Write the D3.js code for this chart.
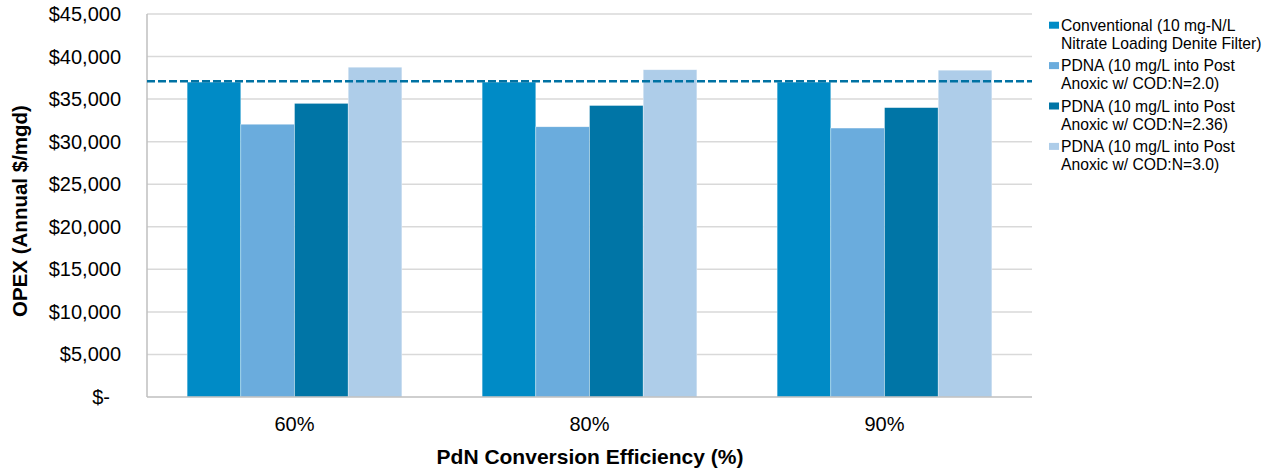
<!DOCTYPE html>
<html>
<head>
<meta charset="utf-8">
<script src="https://cdn.jsdelivr.net/npm/d3@7"></script>
<style>
  html, body { margin: 0; padding: 0; background: #ffffff; }
  svg { display: block; font-family: "Liberation Sans", Arial, sans-serif; }
</style>
</head>
<body>
<svg id="chart" width="1268" height="470"></svg>
<script>
// PdN conversion efficiency categories
const categories = ["60%", "80%", "90%"];

// Legend labels, split over two lines each
const seriesLabels = [
  ["Conventional (10 mg-N/L", "Nitrate Loading Denite Filter)"],
  ["PDNA (10 mg/L into Post", "Anoxic w/ COD:N=2.0)"],
  ["PDNA (10 mg/L into Post", "Anoxic w/ COD:N=2.36)"],
  ["PDNA (10 mg/L into Post", "Anoxic w/ COD:N=3.0)"]
];

// Annual OPEX ($/mgd) for each series across the categories
const conventional = [37000, 37000, 37000];
const pdnaCod20 = [32050, 31750, 31600];
const pdnaCod236 = [34500, 34250, 34000];
const pdnaCod30 = [38750, 38450, 38400];
const seriesValues = [conventional, pdnaCod20, pdnaCod236, pdnaCod30];

// Reference level of the conventional process (dashed line)
const conventionalReference = 37100;

// Y axis ticks
const yTicks = [0, 5000, 10000, 15000, 20000, 25000, 30000, 35000, 40000, 45000];

const colors = ["#008bc6", "#6aacdd", "#0075a6", "#aecde9"];

const svg = d3.select("#chart");
const margin = { left: 147, right: 1032, top: 14, bottom: 397 };

const x0 = d3.scaleBand()
  .domain(categories)
  .range([margin.left, margin.right])
  .paddingInner(0.272)
  .paddingOuter(0.136);

const x1 = d3.scaleBand()
  .domain(d3.range(seriesValues.length))
  .range([0, x0.bandwidth()]);

const y = d3.scaleLinear()
  .domain([0, 45000])
  .range([margin.bottom, margin.top]);

// Horizontal gridlines
svg.append("g")
  .selectAll("line")
  .data(yTicks.filter(d => d > 0))
  .join("line")
  .attr("x1", margin.left)
  .attr("x2", margin.right)
  .attr("y1", d => y(d))
  .attr("y2", d => y(d))
  .attr("stroke", "#d9d9d9")
  .attr("stroke-width", 1.5);

// Bars
const groups = svg.append("g")
  .selectAll("g")
  .data(categories)
  .join("g")
  .attr("transform", d => `translate(${x0(d)},0)`);

groups.selectAll("rect")
  .data((d, i) => seriesValues.map((s, k) => ({ k, v: s[i] })))
  .join("rect")
  .attr("x", d => x1(d.k))
  .attr("width", x1.bandwidth())
  .attr("y", d => y(d.v))
  .attr("height", d => y(0) - y(d.v))
  .attr("fill", d => colors[d.k])
  .attr("stroke", "#ffffff")
  .attr("stroke-width", 0.6)
  .attr("stroke-opacity", 0.6);

// Axis lines
svg.append("line")
  .attr("x1", margin.left).attr("x2", margin.left)
  .attr("y1", margin.top).attr("y2", margin.bottom)
  .attr("stroke", "#bfbfbf").attr("stroke-width", 1.5);
svg.append("line")
  .attr("x1", margin.left).attr("x2", margin.right)
  .attr("y1", margin.bottom).attr("y2", margin.bottom)
  .attr("stroke", "#bfbfbf").attr("stroke-width", 1.5);

// Conventional reference dashed line
svg.append("line")
  .attr("x1", margin.left)
  .attr("x2", margin.right)
  .attr("y1", y(conventionalReference))
  .attr("y2", y(conventionalReference))
  .attr("stroke", "#0072a3")
  .attr("stroke-width", 2.5)
  .attr("stroke-dasharray", "8,3");

// Y tick labels
const moneyFmt = d3.format(",");
svg.append("g")
  .selectAll("text")
  .data(yTicks)
  .join("text")
  .attr("x", d => d === 0 ? margin.left - 37 : margin.left - 26)
  .attr("y", d => y(d))
  .attr("dy", "0.35em")
  .attr("text-anchor", "end")
  .attr("font-size", "20px")
  .attr("fill", "#000")
  .text(d => d === 0 ? "$-" : "$" + moneyFmt(d));

// X tick labels
svg.append("g")
  .selectAll("text")
  .data(categories)
  .join("text")
  .attr("x", d => x0(d) + x0.bandwidth() / 2)
  .attr("y", 431)
  .attr("text-anchor", "middle")
  .attr("font-size", "20px")
  .attr("fill", "#000")
  .text(d => d);

// Axis titles
svg.append("text")
  .attr("x", 590)
  .attr("y", 464)
  .attr("text-anchor", "middle")
  .attr("font-size", "21px")
  .attr("font-weight", "bold")
  .attr("fill", "#000")
  .text("PdN Conversion Efficiency (%)");

svg.append("text")
  .attr("transform", "translate(27,211) rotate(-90)")
  .attr("text-anchor", "middle")
  .attr("font-size", "20.5px")
  .attr("font-weight", "bold")
  .attr("fill", "#000")
  .text("OPEX (Annual $/mgd)");

// Legend
const legend = svg.append("g")
  .selectAll("g")
  .data(seriesLabels)
  .join("g")
  .attr("transform", (d, i) => `translate(1049,${30.7 + i * 40.4})`);

legend.append("rect")
  .attr("x", 0)
  .attr("y", -9)
  .attr("width", 10)
  .attr("height", 7)
  .attr("fill", (d, i) => colors[i]);

legend.append("text")
  .attr("x", 12)
  .attr("y", 0)
  .attr("font-size", "15.7px")
  .attr("fill", "#000")
  .selectAll("tspan")
  .data(d => d)
  .join("tspan")
  .attr("x", 12)
  .attr("dy", (d, j) => j === 0 ? 0 : 18.3)
  .text(d => d);
</script>
</body>
</html>
